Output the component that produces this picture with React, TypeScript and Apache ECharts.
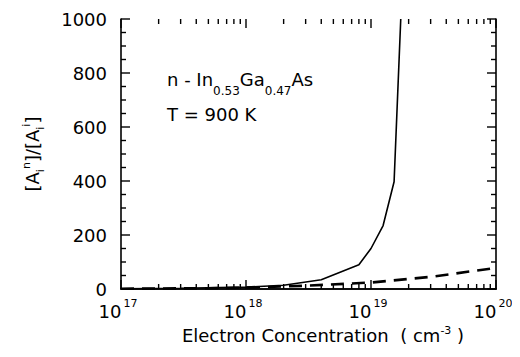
import React, { useEffect, useRef } from "react";
import * as echarts from "echarts";

// Data
const solidX = [1e17, 3e17, 1e18, 2e18, 4e18, 8e18, 1e19, 1.25e19, 1.53e19, 1.73e19];
const solidY = [1, 3, 7, 14, 34, 90, 150, 235, 397, 1000];
const dashedX = [1e17, 5e17, 1e18, 3e18, 1e19, 3e19, 1e20];
const dashedY = [1, 3, 5, 12, 24, 45, 78];
const decades = [1e17, 1e18, 1e19, 1e20];
const minorMultipliers = [2, 3, 4, 5, 6, 7, 8, 9];
const yTickValues = [0, 200, 400, 600, 800, 1000];
const yMinorPerMajor = 4;

const FONT = "DejaVu Sans";
const MAJOR = 9;
const MINOR = 5;

export default function App() {
  const ref = useRef<HTMLDivElement>(null);
  useEffect(() => {
    if (!ref.current) return;
    const chart = echarts.init(ref.current, undefined, { renderer: "svg" });
    const xMin = decades[0];
    const xMax = decades[decades.length - 1];
    const yMin = yTickValues[0];
    const yMax = yTickValues[yTickValues.length - 1];
    const yInterval = yTickValues[1] - yTickValues[0];

    const xTickData: number[][] = [];
    decades.forEach((d, i) => {
      xTickData.push([d, MAJOR]);
      if (i < decades.length - 1) minorMultipliers.forEach((m) => xTickData.push([d * m, MINOR]));
    });
    const yTickData: number[][] = [];
    yTickValues.forEach((v, i) => {
      yTickData.push([v, MAJOR]);
      if (i < yTickValues.length - 1)
        for (let k = 1; k < yMinorPerMajor; k++) yTickData.push([v + (yInterval * k) / yMinorPerMajor, MINOR]);
    });

    const axisLine = { show: true, lineStyle: { color: "#000", width: 1.6 } };
    const tickSt = { stroke: "#000", lineWidth: 1.4 };

    chart.setOption({
      animation: false,
      backgroundColor: "#fff",
      grid: { left: 121, right: 24, top: 19, bottom: 68, containLabel: false },
      xAxis: [
        {
          type: "log",
          logBase: 10,
          min: xMin,
          max: xMax,
          position: "bottom",
          axisLine,
          splitLine: { show: false },
          axisTick: { show: false },
          axisLabel: {
            margin: 9,
            color: "#000",
            padding: [0, 6, 0, 0],
            formatter: (v: number) => `{b|10}{s|${Math.round(Math.log10(v))}}`,
            rich: {
              b: { fontFamily: FONT, fontSize: 18, color: "#000", lineHeight: 22, verticalAlign: "bottom" },
              s: { fontFamily: FONT, fontSize: 11, color: "#000", lineHeight: 12, verticalAlign: "top", padding: [0, 0, 0, 2] },
            },
          },
          name: "Electron Concentration  ( cm{s|-3} )",
          nameLocation: "middle",
          nameGap: 40,
          nameTextStyle: {
            fontFamily: FONT,
            fontSize: 18,
            color: "#000",
            lineHeight: 22,
            verticalAlign: "bottom",
            padding: [0, 0, 0, 29],
            rich: {
              s: { fontFamily: FONT, fontSize: 11, color: "#000", lineHeight: 11, verticalAlign: "top" },
            },
          },
        },
        {
          type: "log",
          logBase: 10,
          min: xMin,
          max: xMax,
          position: "top",
          axisLine,
          splitLine: { show: false },
          axisTick: { show: false },
          axisLabel: { show: false },
        },
      ],
      yAxis: [
        {
          type: "value",
          min: yMin,
          max: yMax,
          interval: yInterval,
          position: "left",
          axisLine,
          splitLine: { show: false },
          axisTick: { show: false },
          axisLabel: {
            margin: 14,
            color: "#000",
            fontFamily: FONT,
            fontSize: 18,
            formatter: (v: number) => String(v),
          },
          name: "[A{sub|i}{sup|n}]/[A{sub|i}{sup|i}]",
          nameLocation: "middle",
          nameRotate: 90,
          nameGap: 100,
          nameTextStyle: {
            fontFamily: FONT,
            fontSize: 18,
            color: "#000",
            lineHeight: 22,
            verticalAlign: "top",
            rich: {
              sup: { fontFamily: FONT, fontSize: 11, color: "#000", lineHeight: 11, verticalAlign: "top" },
              sub: { fontFamily: FONT, fontSize: 11, color: "#000", lineHeight: 11, padding: [14, 0, 0, 0], verticalAlign: "top" },
            },
          },
        },
        {
          type: "value",
          min: yMin,
          max: yMax,
          interval: yInterval,
          position: "right",
          axisLine,
          splitLine: { show: false },
          axisTick: { show: false },
          axisLabel: { show: false },
        },
      ],
      graphic: [
        {
          type: "text",
          left: 167,
          top: 68,
          style: {
            text: "n - In{sub|0.53}Ga{sub|0.47}As",
            fontFamily: FONT,
            fontSize: 18,
            fill: "#000",
            lineHeight: 22,
            verticalAlign: "top",
            rich: {
              sub: { fontFamily: FONT, fontSize: 12, fill: "#000", lineHeight: 12, padding: [17, 0, 0, 0], verticalAlign: "top" },
            },
          },
        },
        {
          type: "text",
          left: 167,
          top: 105,
          style: { text: "T = 900 K", fontFamily: FONT, fontSize: 18, fill: "#000" },
        },
      ],
      series: [
        {
          type: "line",
          xAxisIndex: 0,
          yAxisIndex: 0,
          data: solidX.map((x, i) => [x, solidY[i]]),
          showSymbol: false,
          symbol: "none",
          lineStyle: { color: "#000", width: 1.6 },
          clip: true,
          silent: true,
        },
        {
          type: "line",
          xAxisIndex: 0,
          yAxisIndex: 0,
          data: dashedX.map((x, i) => [x, dashedY[i]]),
          showSymbol: false,
          symbol: "none",
          lineStyle: { color: "#000", width: 2.6, type: [13, 8] },
          clip: true,
          silent: true,
        },
        {
          type: "custom",
          xAxisIndex: 0,
          yAxisIndex: 0,
          silent: true,
          clip: false,
          data: xTickData.map((d) => [d[0], yMin, d[1]]),
          encode: { x: 0, y: 1 },
          renderItem: (_params: any, api: any) => {
            const x = api.value(0);
            const len = api.value(2);
            const b = api.coord([x, yMin]);
            const t = api.coord([x, yMax]);
            return {
              type: "group",
              children: [
                { type: "line", shape: { x1: b[0], y1: b[1], x2: b[0], y2: b[1] - len }, style: tickSt },
                { type: "line", shape: { x1: t[0], y1: t[1], x2: t[0], y2: t[1] + len }, style: tickSt },
              ],
            };
          },
        },
        {
          type: "custom",
          xAxisIndex: 0,
          yAxisIndex: 0,
          silent: true,
          clip: false,
          data: yTickData.map((d) => [xMin, d[0], d[1]]),
          encode: { x: 0, y: 1 },
          renderItem: (_params: any, api: any) => {
            const y = api.value(1);
            const len = api.value(2);
            const l = api.coord([xMin, y]);
            const r = api.coord([xMax, y]);
            return {
              type: "group",
              children: [
                { type: "line", shape: { x1: l[0], y1: l[1], x2: l[0] + len, y2: l[1] }, style: tickSt },
                { type: "line", shape: { x1: r[0], y1: r[1], x2: r[0] - len, y2: r[1] }, style: tickSt },
              ],
            };
          },
        },
      ],
    });
    return () => chart.dispose();
  }, []);
  return <div ref={ref} style={{ width: 520, height: 357, margin: -8 }} />;
}
